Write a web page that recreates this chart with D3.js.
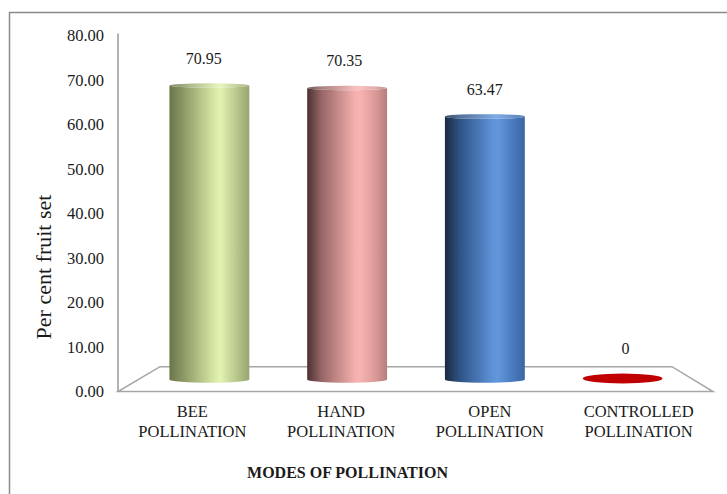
<!DOCTYPE html>
<html>
<head>
<meta charset="utf-8">
<script src="https://cdn.jsdelivr.net/npm/d3@7"></script>
<style>
  html, body { margin: 0; padding: 0; background: #fff; }
  svg { display: block; }
</style>
</head>
<body>
<svg id="chart" width="727" height="494"></svg>
<script>
// Per cent fruit set under different modes of pollination
const categories = [["BEE", "POLLINATION"], ["HAND", "POLLINATION"], ["OPEN", "POLLINATION"], ["CONTROLLED", "POLLINATION"]];
const values = [70.95, 70.35, 63.47, 0];
const valueLabels = ["70.95", "70.35", "63.47", "0"];
const yTicks = [0, 10, 20, 30, 40, 50, 60, 70, 80];
const yTitle = "Per cent fruit set";
const xTitle = "MODES OF POLLINATION";

// cylinder shading: [offset, colour]
const shades = [
  [[0, "#6a754a"], [0.18, "#8d9a65"], [0.58, "#dbeca9"], [0.64, "#e1f2b2"], [0.86, "#b4c388"], [1, "#97a56e"]],
  [[0, "#4c3232"], [0.18, "#976666"], [0.6, "#f5b0ae"], [0.66, "#f8b4b2"], [0.86, "#d99896"], [1, "#b67e7d"]],
  [[0, "#192a42"], [0.18, "#2e5283"], [0.6, "#5e93d9"], [0.66, "#6397dc"], [0.86, "#4979bd"], [1, "#3966a3"]],
  [[0, "#c00000"], [1, "#c00000"]]
];

const FONT = "'Liberation Serif', 'Times New Roman', serif";
const INK = "#1a1a1a";

const svg = d3.select("#chart");
const keys = categories.map(c => c.join(" "));

// outer chart frame (runs off the right and bottom of the page)
svg.append("rect")
  .attr("x", 9.5).attr("y", 12.5)
  .attr("width", 760).attr("height", 520)
  .attr("fill", "none").attr("stroke", "#8a8a8a").attr("stroke-width", 1.5);

// front plane of the 3-D plot box: axis and category labels
const xFront = d3.scaleBand().domain(keys).range([118, 713]);
const yFront = d3.scaleLinear().domain([0, 80]).range([391.5, 35.5]);
// mid-depth plane where the cylinders stand
const xMid = d3.scaleBand().domain(keys).range([140.5, 691.5]);
const yMid = d3.scaleLinear().domain([0, 80]).range([379.5, 48]);
// back edge of the floor
const xBack = d3.scaleBand().domain(keys).range([160, 672]);
const yBackZero = 366.7;

// floor
const floor = [
  [xFront.range()[0], yFront(0)],
  [xFront.range()[1], yFront(0)],
  [xBack.range()[1], yBackZero],
  [xBack.range()[0], yBackZero]
];
svg.append("path")
  .attr("d", "M" + floor.map(p => p.join(",")).join("L") + "Z")
  .attr("fill", "#fff").attr("stroke", "#a6a6a6").attr("stroke-width", 1.5)
  .attr("stroke-linejoin", "miter");

// value axis
const yAxis = d3.axisLeft(yFront).tickValues(yTicks).tickFormat(d3.format(".2f")).tickSize(0).tickPadding(14);
const ga = svg.append("g").attr("transform", "translate(118,0)").call(yAxis);
ga.select(".domain").attr("d", `M0,${yFront(80) - 2}V${yFront(0)}`).attr("stroke", "#9a9a9a").attr("stroke-width", 1.5);
ga.selectAll("text").attr("font-size", 16.5).attr("fill", INK).style("font-family", FONT);

// gradients
const defs = svg.append("defs");
shades.forEach((s, i) => {
  const g = defs.append("linearGradient").attr("id", "cyl" + i).attr("x1", 0).attr("x2", 1).attr("y1", 0).attr("y2", 0);
  s.forEach(([o, c]) => g.append("stop").attr("offset", o).attr("stop-color", c));
});

// cylinders
const rx = xMid.bandwidth() * 0.29;
const ryTop = d3.scaleLinear().domain([80, 380]).range([2.2, 3.4]);
const ryBottom = 3.3;

values.forEach((v, i) => {
  const cx = xMid(keys[i]) + xMid.bandwidth() / 2;
  const yTop = yMid(v), yBot = yMid(0);
  const g = svg.append("g");
  if (v === 0) {
    // zero value: only a flat disc on the floor
    g.append("ellipse")
      .attr("cx", cx).attr("cy", yBot - 1).attr("rx", rx).attr("ry", 5)
      .attr("fill", `url(#cyl${i})`);
  } else {
    const rt = ryTop(yTop);
    g.append("path")
      .attr("d", `M${cx - rx},${yTop}L${cx - rx},${yBot}A${rx},${ryBottom} 0 0 0 ${cx + rx},${yBot}L${cx + rx},${yTop}A${rx},${rt} 0 0 1 ${cx - rx},${yTop}Z`)
      .attr("fill", `url(#cyl${i})`);
    g.append("ellipse")
      .attr("cx", cx).attr("cy", yTop).attr("rx", rx).attr("ry", rt)
      .attr("fill", `url(#cyl${i})`);
    g.append("ellipse")
      .attr("cx", cx).attr("cy", yTop).attr("rx", rx).attr("ry", rt)
      .attr("fill", "#fff").attr("opacity", 0.18);
  }
  // value label, shifted slightly by perspective
  const vanishX = 485;
  const lx = cx + (cx - vanishX) * 0.02;
  const topEdge = v === 0 ? yBot - 6 : yTop - ryTop(yTop);
  svg.append("text")
    .attr("x", lx).attr("y", topEdge - 19.5)
    .attr("text-anchor", "middle").attr("font-size", 16).attr("fill", INK)
    .style("font-family", FONT)
    .text(valueLabels[i]);
});

// category labels
categories.forEach((lines, i) => {
  const cx = xFront(keys[i]) + xFront.bandwidth() / 2;
  const t = svg.append("text").attr("text-anchor", "middle").attr("font-size", 16.5).attr("fill", INK)
    .style("font-family", FONT);
  lines.forEach((ln, j) => t.append("tspan").attr("x", cx).attr("y", 417 + j * 20).text(ln));
});

// axis titles
svg.append("text")
  .attr("transform", "translate(50.5,267) rotate(-90)")
  .attr("text-anchor", "middle").attr("font-size", 22).attr("fill", INK)
  .style("font-family", FONT)
  .text(yTitle);
svg.append("text")
  .attr("x", 347.5).attr("y", 478)
  .attr("text-anchor", "middle").attr("font-size", 16).attr("font-weight", "bold").attr("fill", INK)
  .style("font-family", FONT)
  .text(xTitle);
</script>
</body>
</html>
